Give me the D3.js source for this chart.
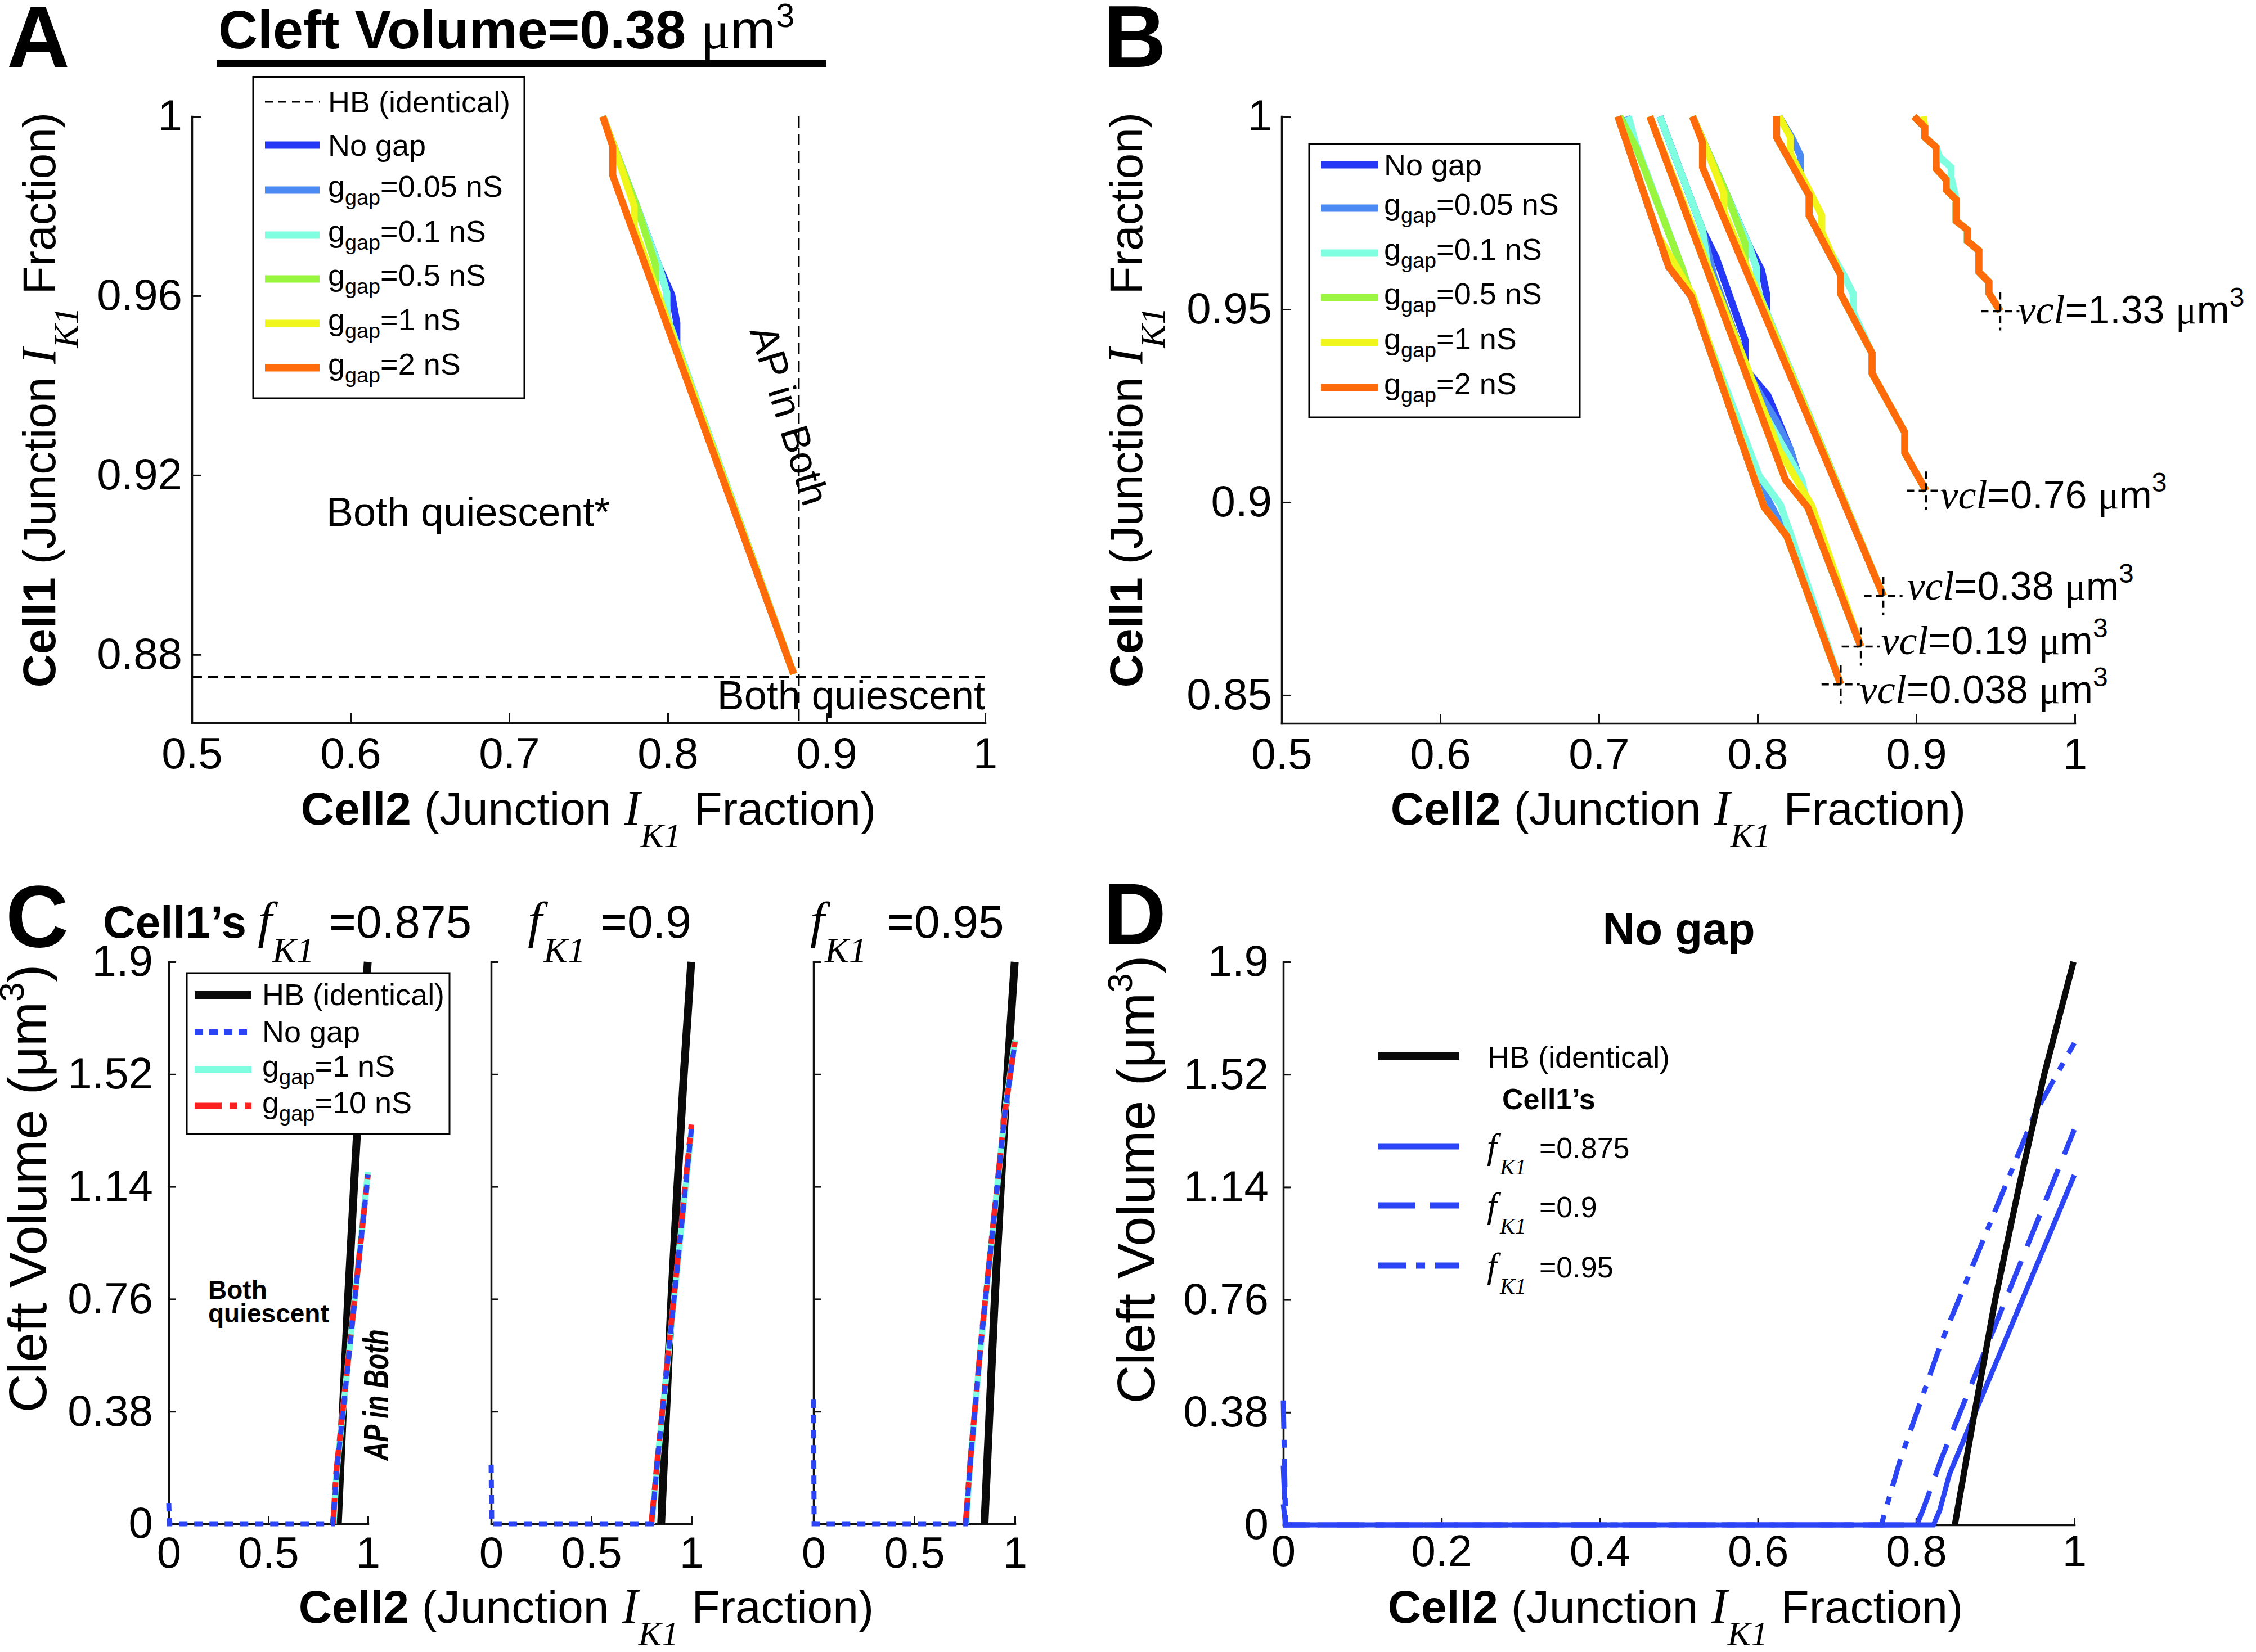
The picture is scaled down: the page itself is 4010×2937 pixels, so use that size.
<!DOCTYPE html>
<html><head><meta charset="utf-8">
<script src="https://cdn.jsdelivr.net/npm/d3@7"></script>
<style>body{margin:0;background:#fff}</style>
</head><body>
<svg id="c" width="4010" height="2937" xmlns="http://www.w3.org/2000/svg"></svg>
<script>
const SANS = "'Liberation Sans', Arial, Helvetica, sans-serif";
const SERIF = "'Liberation Serif', 'Times New Roman', Times, serif";

// ================= DATA =================
const gapNames  = ["No gap", "0.05", "0.1", "0.5", "1", "2"];
const gapColors = ["#2438f5", "#4a8af2", "#80ffe0", "#9af53e", "#f0f51a", "#ff6a0a"];
const vclValues = ["0.038", "0.19", "0.38", "0.76", "1.33"];

// HB (identical cells) thresholds, panel A
const hbCell2 = 0.8826;
const hbCell1 = 0.875;

// Panel B boundaries [Cell2 fraction, Cell1 fraction]; vcl = 0.038
const v0038_g0   = [[0.712,1],[0.744,0.961],[0.7582,0.9534],[0.8041,0.8988],[0.8184,0.8913],[0.8524,0.8528]];
const v0038_g005 = [[0.7175,1],[0.7234,0.9925],[0.7519,0.9613],[0.7582,0.9534],[0.800,0.906],[0.8184,0.8913],[0.8524,0.8528]];
const v0038_g01  = [[0.7186,1],[0.7234,0.9927],[0.7519,0.9613],[0.7582,0.9534],[0.8009,0.907],[0.8144,0.8994],[0.8207,0.8919],[0.8524,0.8528]];
const v0038_g05  = [[0.7131,1],[0.7234,0.992],[0.7519,0.9613],[0.7582,0.9534],[0.8041,0.8988],[0.8184,0.8913],[0.8524,0.8528]];
const v0038_g1   = [[0.712,1],[0.7375,0.969],[0.759,0.9538],[0.8041,0.8988],[0.8184,0.8913],[0.8524,0.8528]];
const v0038_g2   = [[0.712,1],[0.744,0.961],[0.7582,0.9534],[0.8041,0.8988],[0.8184,0.8913],[0.8524,0.8528]];
// vcl = 0.19
const v019_g0   = [[0.7384,1],[0.7653,0.9706],[0.774,0.9633],[0.7922,0.942],[0.7922,0.9347],[0.8065,0.9277],[0.812,0.9223],[0.8207,0.9136],[0.8318,0.8986],[0.8651,0.8626]];
const v019_g005 = [[0.7384,1],[0.7653,0.9706],[0.7725,0.9586],[0.795,0.933],[0.8025,0.9274],[0.812,0.921],[0.8207,0.9136],[0.8318,0.8986],[0.8651,0.8626]];
const v019_g01  = [[0.7384,1],[0.7653,0.9706],[0.769,0.96],[0.799,0.927],[0.8073,0.9209],[0.8279,0.9058],[0.8318,0.8986],[0.8651,0.8626]];
const v019_g05  = [[0.7321,1],[0.8176,0.9058],[0.8318,0.8986],[0.8651,0.8626]];
const v019_g1   = [[0.7321,1],[0.8136,0.9136],[0.8342,0.8991],[0.8651,0.8626]];
const v019_g2   = [[0.7321,1],[0.8176,0.9058],[0.8318,0.8986],[0.8651,0.8626]];
// vcl = 0.38 (also panel A)
const v038_g0   = [[0.759,1],[0.7661,0.9933],[0.7804,0.98],[0.7946,0.9665],[0.8025,0.9602],[0.8057,0.954],[0.8057,0.9477],[0.8793,0.8757]];
const v038_g005 = [[0.759,1],[0.7661,0.9933],[0.7804,0.98],[0.7946,0.9665],[0.7994,0.9607],[0.7994,0.9555],[0.8793,0.8757]];
const v038_g01  = [[0.759,1],[0.7661,0.9933],[0.7804,0.98],[0.7946,0.9665],[0.7994,0.9607],[0.7994,0.9555],[0.8793,0.8757]];
const v038_g05  = [[0.759,1],[0.7661,0.9933],[0.7804,0.98],[0.7922,0.967],[0.7922,0.9613],[0.8793,0.8757]];
const v038_g1   = [[0.759,1],[0.7661,0.9933],[0.7788,0.98],[0.7788,0.9753],[0.8793,0.8757]];
const v038_g2   = [[0.759,1],[0.7653,0.9933],[0.7653,0.9868],[0.8793,0.8757]];
// vcl = 0.76
const v076_g0   = [[0.812,1],[0.812,0.9946],[0.8326,0.9795],[0.8326,0.9743],[0.8524,0.9589],[0.8524,0.954],[0.8722,0.9386],[0.8722,0.9334],[0.8928,0.9181],[0.8928,0.9128],[0.9062,0.903]];
const v076_g005 = [[0.8136,1],[0.8215,0.9946],[0.827,0.9899],[0.827,0.9852],[0.8326,0.9795],[0.8326,0.9743],[0.8524,0.9589],[0.8524,0.954],[0.8722,0.9386],[0.8722,0.9334],[0.8928,0.9181],[0.8928,0.9128],[0.9062,0.903]];
const v076_g01  = [[0.812,1],[0.812,0.9946],[0.8326,0.9795],[0.8326,0.9743],[0.854,0.9592],[0.8603,0.954],[0.8603,0.9493],[0.8722,0.9386],[0.8722,0.9334],[0.8928,0.9181],[0.8928,0.9128],[0.9062,0.903]];
const v076_g05  = [[0.812,1],[0.812,0.9946],[0.8326,0.9795],[0.8326,0.9743],[0.8524,0.9589],[0.8524,0.954],[0.8722,0.9386],[0.8722,0.9334],[0.8928,0.9181],[0.8928,0.9128],[0.9062,0.903]];
const v076_g1   = [[0.8136,1],[0.8207,0.9946],[0.8207,0.9904],[0.8342,0.9795],[0.8405,0.9743],[0.8405,0.9701],[0.8524,0.9589],[0.8524,0.954],[0.8722,0.9386],[0.8722,0.9334],[0.8928,0.9181],[0.8928,0.9128],[0.9062,0.903]];
const v076_g2   = [[0.812,1],[0.812,0.9946],[0.8326,0.9795],[0.8326,0.9743],[0.8524,0.9589],[0.8524,0.954],[0.8722,0.9386],[0.8722,0.9334],[0.8928,0.9181],[0.8928,0.9128],[0.9062,0.903]];
// vcl = 1.33
const v133_g0   = [[0.8985,1],[0.9054,0.9972],[0.9054,0.9946],[0.9125,0.992],[0.9125,0.9865],[0.9189,0.9836],[0.9189,0.981],[0.9252,0.9784],[0.9252,0.9729],[0.9323,0.9706],[0.9323,0.9677],[0.9395,0.9652],[0.9395,0.9597],[0.9458,0.9571],[0.9458,0.9542],[0.953,0.9495]];
const v133_g005 = [[0.8985,1],[0.9054,0.9972],[0.9054,0.9946],[0.9125,0.992],[0.9125,0.9865],[0.9189,0.9836],[0.9189,0.981],[0.9252,0.9784],[0.9252,0.9729],[0.9323,0.9706],[0.9323,0.9677],[0.9395,0.9652],[0.9395,0.9597],[0.9458,0.9571],[0.9458,0.9542],[0.953,0.9495]];
const v133_g01  = [[0.8985,1],[0.9054,0.9972],[0.9054,0.9946],[0.9125,0.992],[0.9149,0.9894],[0.922,0.9868],[0.922,0.9842],[0.9252,0.9784],[0.9252,0.9729],[0.9323,0.9706],[0.9323,0.9677],[0.9395,0.9652],[0.9395,0.9597],[0.9458,0.9571],[0.9458,0.9542],[0.953,0.9495]];
const v133_g05  = [[0.8985,1],[0.9054,0.9972],[0.9054,0.9946],[0.9125,0.992],[0.9125,0.9865],[0.9189,0.9836],[0.9189,0.981],[0.9252,0.9784],[0.9252,0.9729],[0.9323,0.9706],[0.9323,0.9677],[0.9395,0.9652],[0.9395,0.9597],[0.9458,0.9571],[0.9458,0.9542],[0.953,0.9495]];
const v133_g1   = [[0.9045,1],[0.9054,0.9972],[0.9054,0.9946],[0.9125,0.992],[0.9125,0.9865],[0.9189,0.9836],[0.9189,0.981],[0.9252,0.9784],[0.9252,0.9729],[0.9323,0.9706],[0.9323,0.9677],[0.9395,0.9652],[0.9395,0.9597],[0.9458,0.9571],[0.9458,0.9542],[0.953,0.9495]];
const v133_g2   = [[0.8985,1],[0.9054,0.9972],[0.9054,0.9946],[0.9125,0.992],[0.9125,0.9865],[0.9189,0.9836],[0.9189,0.981],[0.9252,0.9784],[0.9252,0.9729],[0.9323,0.9706],[0.9323,0.9677],[0.9395,0.9652],[0.9395,0.9597],[0.9458,0.9571],[0.9458,0.9542],[0.953,0.9495]];

// Panels C/D: cleft volume vs Cell2 fraction
const fK1Values = ["0.875", "0.9", "0.95"];
const hbVolume   = [[0.849,0],[0.874,0.38],[0.9,0.76],[0.93,1.14],[0.962,1.52],[0.999,1.9]];
const noGap_0875 = [[0,0.07],[0.003,0],[0.822,0],[0.83,0.05],[0.842,0.17],[1.0,1.18]];
const noGap_09   = [[0,0.2],[0.003,0],[0.801,0],[0.81,0.06],[0.8315,0.22],[1.0,1.334]];
const noGap_095  = [[0,0.42],[0.003,0],[0.756,0],[0.78,0.22],[0.8315,0.613],[0.903,1.08],[0.95,1.387],[1.0,1.626]];
const g1_0875  = [[0.828,0],[0.842,0.17],[1.0,1.19]];
const g10_0875 = [[0.825,0],[0.84,0.17],[1.0,1.18]];
const g1_09    = [[0.803,0],[0.8315,0.22],[1.0,1.33]];
const g10_09   = [[0.80,0],[0.8315,0.225],[1.0,1.35]];
const g1_095   = [[0.758,0],[0.78,0.22],[0.8315,0.61],[0.903,1.08],[0.95,1.39],[1.0,1.635]];
const g10_095  = [[0.755,0],[0.78,0.225],[0.8315,0.615],[0.903,1.085],[0.95,1.39],[1.0,1.63]];

// Tick values / labels
const abXTicks = [0.5, 0.6, 0.7, 0.8, 0.9, 1];
const abXTickLabels = ["0.5", "0.6", "0.7", "0.8", "0.9", "1"];
const aYTicks = [0.88, 0.92, 0.96, 1];
const aYTickLabels = ["0.88", "0.92", "0.96", "1"];
const bYTicks = [0.85, 0.9, 0.95, 1];
const bYTickLabels = ["0.85", "0.9", "0.95", "1"];
const volTicks = [0, 0.38, 0.76, 1.14, 1.52, 1.9];
const volTickLabels = ["0", "0.38", "0.76", "1.14", "1.52", "1.9"];
const cXTicks = [0, 0.5, 1];
const cXTickLabels = ["0", "0.5", "1"];
const dXTicks = [0, 0.2, 0.4, 0.6, 0.8, 1];
const dXTickLabels = ["0", "0.2", "0.4", "0.6", "0.8", "1"];

// ================= HELPERS =================
const svg = d3.select('#c');
svg.append('rect').attr('width', 4010).attr('height', 2937).attr('fill', '#fff');

function rich(parent, x, y, parts, o = {}) {
  const t = parent.append('text').attr('x', x).attr('y', y)
    .attr('text-anchor', o.anchor || 'start').style('white-space', 'pre').attr('fill', '#000');
  if (o.transform) t.attr('transform', o.transform);
  let cur = 0;
  for (const p of parts) {
    const s = t.append('tspan').text(p.t)
      .attr('font-family', p.serif ? SERIF : SANS)
      .attr('font-size', p.size)
      .attr('font-weight', p.bold ? 'bold' : 'normal')
      .attr('font-style', p.italic ? 'italic' : 'normal');
    const sh = p.shift || 0;
    if (sh !== cur) { s.attr('dy', sh - cur); cur = sh; }
    if (p.dx) s.attr('dx', p.dx);
  }
  return t;
}
function styleAxis(sel, fs) {
  sel.attr('font-size', null).attr('font-family', null);
  sel.select('.domain').attr('stroke', '#111').attr('stroke-width', 3.5).attr('stroke-linecap', 'square');
  sel.selectAll('.tick line').attr('stroke', '#111').attr('stroke-width', 3);
  sel.selectAll('.tick text').attr('font-family', SANS).attr('font-size', fs).attr('fill', '#000');
}
function drawAxes(x, y, o) {
  const gx = svg.append('g').attr('transform', `translate(0,${y.range()[0]})`)
    .call(d3.axisBottom(x).tickValues(o.xt).tickFormat((d, i) => o.xtl[i])
      .tickSizeInner(-o.tl).tickSizeOuter(0).tickPadding(o.xpad));
  styleAxis(gx, 78);
  const gy = svg.append('g').attr('transform', `translate(${x.range()[0]},0)`)
    .call(d3.axisLeft(y).tickValues(o.yt).tickFormat((d, i) => o.ytl ? o.ytl[i] : '')
      .tickSizeInner(-o.tl).tickSizeOuter(0).tickPadding(o.ypad));
  styleAxis(gy, 78);
}
function path(x, y, data, stroke, width, dash) {
  const ln = d3.line().x(d => x(d[0])).y(d => y(d[1]));
  const p = svg.append('path').datum(data).attr('d', ln).attr('fill', 'none')
    .attr('stroke', stroke).attr('stroke-width', width);
  if (dash) p.attr('stroke-dasharray', dash);
  return p;
}
function gapLegendParts(i, fs) {
  if (i === 0) return [{t: 'No gap', size: fs}];
  return [{t: 'g', size: fs}, {t: 'gap', size: fs * 0.7, shift: fs * 0.26}, {t: '=' + gapNames[i] + ' nS', size: fs, shift: 0}];
}
const axisLabParts = cell => [
  {t: cell, bold: true, size: 82},
  {t: ' (Junction ', size: 82},
  {t: 'I', serif: true, italic: true, size: 88},
  {t: 'K1', serif: true, italic: true, size: 62, shift: 40},
  {t: ' Fraction)', size: 82, shift: 0}
];
const volLabParts = [
  {t: 'Cleft Volume (μm', size: 95}, {t: '3', size: 62, shift: -40}, {t: ')', size: 95, shift: 0}
];
function panelLetter(l, x, y) {
  svg.append('text').attr('x', x).attr('y', y).text(l).attr('font-family', SANS)
    .attr('font-weight', 'bold').attr('font-size', 155).attr('fill', '#000');
}

// ================= PANEL A =================
const xA = d3.scaleLinear().domain([0.5, 1]).range([341, 1751]);
const yA = d3.scaleLinear().domain([0.8648, 1]).range([1285, 207]);
panelLetter('A', 12, 119);
rich(svg, 388, 86, [
  {t: 'Cleft Volume=0.38 ', bold: true, size: 97},
  {t: 'μ', serif: true, size: 97},
  {t: 'm', size: 97},
  {t: '3', size: 60, shift: -38}
]);
svg.append('line').attr('x1', 385).attr('x2', 1469).attr('y1', 113).attr('y2', 113)
  .attr('stroke', '#000').attr('stroke-width', 13);

// HB dashed lines
svg.append('line').attr('x1', xA(0.5)).attr('x2', xA(1)).attr('y1', yA(hbCell1)).attr('y2', yA(hbCell1))
  .attr('stroke', '#000').attr('stroke-width', 3.5).attr('stroke-dasharray', '18,11');
svg.append('line').attr('x1', xA(hbCell2)).attr('x2', xA(hbCell2)).attr('y1', yA(1)).attr('y2', yA(0.8648))
  .attr('stroke', '#000').attr('stroke-width', 3).attr('stroke-dasharray', '20,11');

const aSeries = [v038_g0, v038_g005, v038_g01, v038_g05, v038_g1, v038_g2];
aSeries.forEach((s, i) => path(xA, yA, s, gapColors[i], 12.5));

drawAxes(xA, yA, {xt: abXTicks, xtl: abXTickLabels, yt: aYTicks, ytl: aYTickLabels, tl: 17, xpad: 26, ypad: 17});

// annotations
svg.append('text').attr('x', 580).attr('y', 935).text('Both quiescent*')
  .attr('font-family', SANS).attr('font-size', 72);
svg.append('text').attr('x', 1751).attr('y', 1261).attr('text-anchor', 'end').text('Both quiescent')
  .attr('font-family', SANS).attr('font-size', 72);
svg.append('text').attr('transform', 'translate(1332,588) rotate(73)').text('AP in Both')
  .attr('font-family', SANS).attr('font-size', 70);

// legend A
svg.append('rect').attr('x', 450).attr('y', 137).attr('width', 482).attr('height', 571)
  .attr('fill', '#fff').attr('stroke', '#000').attr('stroke-width', 3);
svg.append('line').attr('x1', 471).attr('x2', 568).attr('y1', 181).attr('y2', 181)
  .attr('stroke', '#000').attr('stroke-width', 3).attr('stroke-dasharray', '14,10');
rich(svg, 583, 200, [{t: 'HB (identical)', size: 54}]);
const aLegY = [258, 338, 418, 496, 575, 654];
gapNames.forEach((n, i) => {
  svg.append('line').attr('x1', 471).attr('x2', 568).attr('y1', aLegY[i]).attr('y2', aLegY[i])
    .attr('stroke', gapColors[i]).attr('stroke-width', 13);
  rich(svg, 583, aLegY[i] + (i === 0 ? 19 : 12), gapLegendParts(i, 54));
});

rich(svg, 1046, 1466, axisLabParts('Cell2'), {anchor: 'middle'});
rich(svg.append('g').attr('transform', 'translate(98,711) rotate(-90)'), 0, 0, axisLabParts('Cell1'), {anchor: 'middle'});

// ================= PANEL B =================
const xB = d3.scaleLinear().domain([0.5, 1]).range([2278, 3688]);
const yB = d3.scaleLinear().domain([0.8427, 1]).range([1286, 207]);
panelLetter('B', 1961, 119);

const bGroups = [
  [v0038_g0, v019_g0, v038_g0, v076_g0, v133_g0],
  [v0038_g005, v019_g005, v038_g005, v076_g005, v133_g005],
  [v0038_g01, v019_g01, v038_g01, v076_g01, v133_g01],
  [v0038_g05, v019_g05, v038_g05, v076_g05, v133_g05],
  [v0038_g1, v019_g1, v038_g1, v076_g1, v133_g1],
  [v0038_g2, v019_g2, v038_g2, v076_g2, v133_g2]
];
bGroups.forEach((grp, i) => grp.forEach(s => path(xB, yB, s, gapColors[i], 12.5)));

drawAxes(xB, yB, {xt: abXTicks, xtl: abXTickLabels, yt: bYTicks, ytl: bYTickLabels, tl: 17, xpad: 26, ypad: 17});

// end markers and labels
const vclLabelOffsets = [[33, 33], [36, 14], [42, 6], [25, 32], [31, 22]];
bGroups[5].forEach((s, k) => {
  const e = s[s.length - 1];
  const cx = xB(e[0]), cy = yB(e[1]);
  svg.append('line').attr('x1', cx - 34).attr('x2', cx + 34).attr('y1', cy).attr('y2', cy)
    .attr('stroke', '#000').attr('stroke-width', 3.5).attr('stroke-dasharray', '13,8');
  svg.append('line').attr('x1', cx).attr('x2', cx).attr('y1', cy - 34).attr('y2', cy + 34)
    .attr('stroke', '#000').attr('stroke-width', 3.5).attr('stroke-dasharray', '13,8');
  const off = vclLabelOffsets[k];
  rich(svg, cx + off[0], cy + off[1], [
    {t: 'vcl', serif: true, italic: true, size: 72},
    {t: '=' + vclValues[k] + ' ', size: 70},
    {t: 'μ', serif: true, size: 70},
    {t: 'm', size: 70},
    {t: '3', size: 48, shift: -30}
  ]);
});

// legend B
svg.append('rect').attr('x', 2327).attr('y', 256).attr('width', 481).attr('height', 486)
  .attr('fill', '#fff').attr('stroke', '#000').attr('stroke-width', 3);
const bLegY = [293, 370, 450, 529, 609, 689];
gapNames.forEach((n, i) => {
  svg.append('line').attr('x1', 2348).attr('x2', 2449).attr('y1', bLegY[i]).attr('y2', bLegY[i])
    .attr('stroke', gapColors[i]).attr('stroke-width', 13);
  rich(svg, 2460, bLegY[i] + (i === 0 ? 19 : 12), gapLegendParts(i, 54));
});

rich(svg, 2983, 1466, axisLabParts('Cell2'), {anchor: 'middle'});
rich(svg.append('g').attr('transform', 'translate(2030,711) rotate(-90)'), 0, 0, axisLabParts('Cell1'), {anchor: 'middle'});

// ================= PANEL C =================
panelLetter('C', 10, 1683);
const cRanges = [[300, 654], [873, 1229], [1446, 1804]];
const yC = d3.scaleLinear().domain([0, 1.9]).range([2709, 1710]);
const cNoGap = [noGap_0875, noGap_09, noGap_095];
const cG1 = [g1_0875, g1_09, g1_095];
const cG10 = [g10_0875, g10_09, g10_095];
cRanges.forEach((r, k) => {
  const xC = d3.scaleLinear().domain([0, 1]).range(r);
  drawAxes(xC, yC, {xt: cXTicks, xtl: cXTickLabels, yt: volTicks, ytl: k === 0 ? volTickLabels : null, tl: 13, xpad: 23, ypad: 28});
  path(xC, yC, hbVolume, '#0a0a0a', 14);
  path(xC, yC, cG1[k], '#80ffe0', 11);
  path(xC, yC, cG10[k], '#ff2020', 10, '46,14,14,14');
  path(xC, yC, cNoGap[k], '#2b45f5', 9, '15,12');
});
// C titles
rich(svg, 183, 1667, [{t: 'Cell1’s', bold: true, size: 80}]);
const cTitleX = [[458, 484, 585], [938, 966, 1067], [1440, 1466, 1577]];
fK1Values.forEach((v, k) => {
  const p = cTitleX[k];
  rich(svg, p[0], 1667, [{t: 'f', serif: true, italic: true, size: 92}]);
  rich(svg, p[1], 1711, [{t: 'K1', serif: true, italic: true, size: 64}]);
  rich(svg, p[2], 1667, [{t: '=' + v, size: 82}]);
});
// C legend
svg.append('rect').attr('x', 332).attr('y', 1730).attr('width', 467).attr('height', 286)
  .attr('fill', '#fff').attr('stroke', '#000').attr('stroke-width', 3);
const cLeg = [
  {y: 1769, c: '#0a0a0a', w: 14, d: null, parts: [{t: 'HB (identical)', size: 54}], by: 18},
  {y: 1835, c: '#2b45f5', w: 10, d: '15,11', parts: [{t: 'No gap', size: 54}], by: 18},
  {y: 1901, c: '#80ffe0', w: 12, d: null, parts: [{t: 'g', size: 54}, {t: 'gap', size: 38, shift: 14}, {t: '=1 nS', size: 54, shift: 0}], by: 13},
  {y: 1966, c: '#ff2020', w: 11, d: '48,14,14,14', parts: [{t: 'g', size: 54}, {t: 'gap', size: 38, shift: 14}, {t: '=10 nS', size: 54, shift: 0}], by: 13}
];
cLeg.forEach(e => {
  const l = svg.append('line').attr('x1', 346).attr('x2', 447).attr('y1', e.y).attr('y2', e.y)
    .attr('stroke', e.c).attr('stroke-width', e.w);
  if (e.d) l.attr('stroke-dasharray', e.d);
  rich(svg, 466, e.y + e.by, e.parts);
});
// C annotations
svg.append('text').attr('x', 370).attr('y', 2309).text('Both').attr('font-family', SANS).attr('font-weight', 'bold').attr('font-size', 46);
svg.append('text').attr('x', 370).attr('y', 2351).text('quiescent').attr('font-family', SANS).attr('font-weight', 'bold').attr('font-size', 46);
svg.append('text').attr('transform', 'translate(690,2480) rotate(-90) scale(1,1.35)').attr('text-anchor', 'middle')
  .text('AP in Both').attr('font-family', SANS).attr('font-weight', 'bold').attr('font-style', 'italic').attr('font-size', 46);

rich(svg, 1042, 2885, axisLabParts('Cell2'), {anchor: 'middle'});
rich(svg.append('g').attr('transform', 'translate(82,2113) rotate(-90)'), 0, 0, volLabParts, {anchor: 'middle'});

// ================= PANEL D =================
panelLetter('D', 1961, 1679);
const xD = d3.scaleLinear().domain([0, 1]).range([2281, 3687]);
const yD = d3.scaleLinear().domain([0, 1.9]).range([2711, 1710]);
drawAxes(xD, yD, {xt: dXTicks, xtl: dXTickLabels, yt: volTicks, ytl: volTickLabels, tl: 13, xpad: 18, ypad: 26});
const dStyles = [null, '60,28', '50,20,14,20'];
cNoGap.forEach((s, k) => path(xD, yD, s, '#2b45f5', 9, dStyles[k]));
path(xD, yD, hbVolume, '#0a0a0a', 11);

svg.append('text').attr('x', 2984).attr('y', 1679).attr('text-anchor', 'middle').text('No gap')
  .attr('font-family', SANS).attr('font-weight', 'bold').attr('font-size', 80);
// D legend
svg.append('line').attr('x1', 2449).attr('x2', 2594).attr('y1', 1877).attr('y2', 1877)
  .attr('stroke', '#0a0a0a').attr('stroke-width', 14);
rich(svg, 2644, 1898, [{t: 'HB (identical)', size: 54}]);
svg.append('text').attr('x', 2670).attr('y', 1972).text('Cell1’s')
  .attr('font-family', SANS).attr('font-weight', 'bold').attr('font-size', 52);
const dLegY = [2038, 2143, 2250];
const dLegDash = [null, '66,26', '50,18,16,18'];
fK1Values.forEach((v, k) => {
  const l = svg.append('line').attr('x1', 2449).attr('x2', 2594).attr('y1', dLegY[k]).attr('y2', dLegY[k])
    .attr('stroke', '#2b45f5').attr('stroke-width', 11);
  if (dLegDash[k]) l.attr('stroke-dasharray', dLegDash[k]);
  const b = dLegY[k] + 21;
  rich(svg, 2643, b, [{t: 'f', serif: true, italic: true, size: 64}]);
  rich(svg, 2666, b + 29, [{t: 'K1', serif: true, italic: true, size: 40}]);
  rich(svg, 2736, b, [{t: '=' + v, size: 52}]);
});

rich(svg, 2978, 2885, axisLabParts('Cell2'), {anchor: 'middle'});
rich(svg.append('g').attr('transform', 'translate(2052,2097) rotate(-90)'), 0, 0, volLabParts, {anchor: 'middle'});
</script>
</body></html>
